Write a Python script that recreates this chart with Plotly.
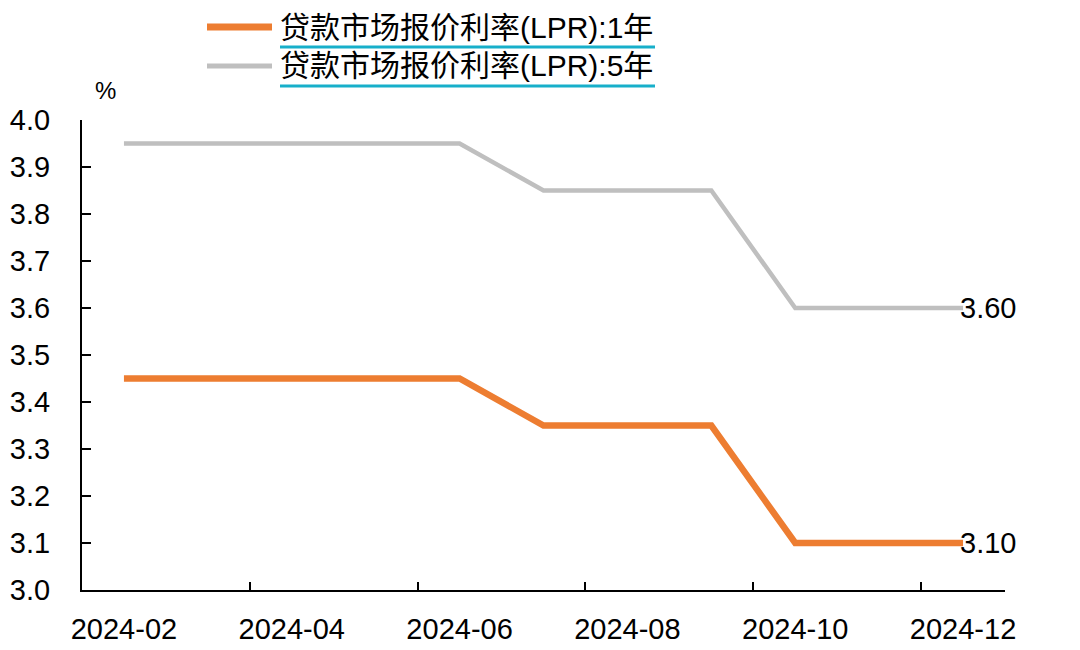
import plotly.graph_objects as go

months = ["2024-02", "2024-03", "2024-04", "2024-05", "2024-06", "2024-07",
          "2024-08", "2024-09", "2024-10", "2024-11", "2024-12"]
lpr_1y = [3.45, 3.45, 3.45, 3.45, 3.45, 3.35, 3.35, 3.35, 3.10, 3.10, 3.10]
lpr_5y = [3.95, 3.95, 3.95, 3.95, 3.95, 3.85, 3.85, 3.85, 3.60, 3.60, 3.60]
name_1y = "贷款市场报价利率(LPR):1年"
name_5y = "贷款市场报价利率(LPR):5年"
y_ticks = [3.0, 3.1, 3.2, 3.3, 3.4, 3.5, 3.6, 3.7, 3.8, 3.9, 4.0]

FONT = "Arial, 'Liberation Sans', 'Noto Sans CJK SC', sans-serif"
ORANGE = "#ED7D31"
GRAY = "#BFBFBF"
TEAL = "#17AFCA"

xs = list(range(len(months)))
label_idx = [i for i in xs if i % 2 == 0]

fig = go.Figure()
fig.add_trace(go.Scatter(x=xs, y=lpr_5y, mode="lines", name=name_5y,
                         line=dict(color=GRAY, width=4.5), showlegend=False))
fig.add_trace(go.Scatter(x=xs, y=lpr_1y, mode="lines", name=name_1y,
                         line=dict(color=ORANGE, width=6.5), showlegend=False))

# end labels
for series in (lpr_5y, lpr_1y):
    fig.add_annotation(x=xs[-1], y=series[-1], text=f"{series[-1]:.2f}",
                       showarrow=False, xanchor="left", yanchor="middle",
                       xshift=-5, font=dict(size=29, color="#000000", family=FONT))

# custom legend
PW, PH, L, B = 923.0, 470.0, 82.0, 590.0
def px(x):
    return (x - L) / PW
def py(y):
    return (B - y) / PH

legend_rows = [(name_1y, ORANGE, 7, 27, 47), (name_5y, GRAY, 5, 66, 86)]
for name, color, w, yc, yu in legend_rows:
    fig.add_shape(type="line", xref="paper", yref="paper",
                  x0=px(207), x1=px(272), y0=py(yc), y1=py(yc),
                  line=dict(color=color, width=w))
    fig.add_shape(type="line", xref="paper", yref="paper",
                  x0=px(280), x1=px(655), y0=py(yu), y1=py(yu),
                  line=dict(color=TEAL, width=3))
    fig.add_annotation(xref="paper", yref="paper", x=px(278), y=py(yc),
                       text=name, showarrow=False, xanchor="left", yanchor="middle",
                       font=dict(size=30, color="#000000", family=FONT))

fig.add_annotation(xref="paper", yref="paper", x=px(105), y=py(90), text="%",
                   showarrow=False, xanchor="center", yanchor="middle",
                   font=dict(size=24, color="#000000", family=FONT))

fig.update_xaxes(range=[-0.5, len(months) - 0.5],
                 tickmode="array", tickvals=label_idx,
                 ticktext=[months[i] for i in label_idx],
                 ticks="", showgrid=False, zeroline=False, automargin=False,
                 showline=True, linecolor="#000000", linewidth=2,
                 tickfont=dict(size=29, color="#000000", family=FONT),
                 ticklabelstandoff=12,
                 minor=dict(tickmode="array",
                            tickvals=[i + 1.5 for i in label_idx[:-1]],
                            ticks="inside", ticklen=8, tickwidth=2,
                            tickcolor="#000000", showgrid=False))
fig.update_yaxes(range=[3.0, 4.0], tickmode="array", tickvals=y_ticks,
                 ticktext=[f"{v:.1f}" for v in y_ticks],
                 ticks="inside", ticklen=9, tickwidth=2, tickcolor="#000000",
                 showgrid=False, zeroline=False, automargin=False,
                 showline=True, linecolor="#000000", linewidth=2,
                 tickfont=dict(size=29, color="#000000", family=FONT),
                 ticklabelstandoff=24)

fig.update_layout(width=1080, height=650,
                  margin=dict(l=82, r=75, t=120, b=60),
                  plot_bgcolor="#FFFFFF", paper_bgcolor="#FFFFFF",
                  font=dict(family=FONT, color="#000000"),
                  showlegend=False)

fig.write_html("out.html", config={"displayModeBar": False},
               post_script="document.body.style.margin='0';"
                           "document.body.style.padding='0';"
                           "document.documentElement.style.overflow='hidden';")
